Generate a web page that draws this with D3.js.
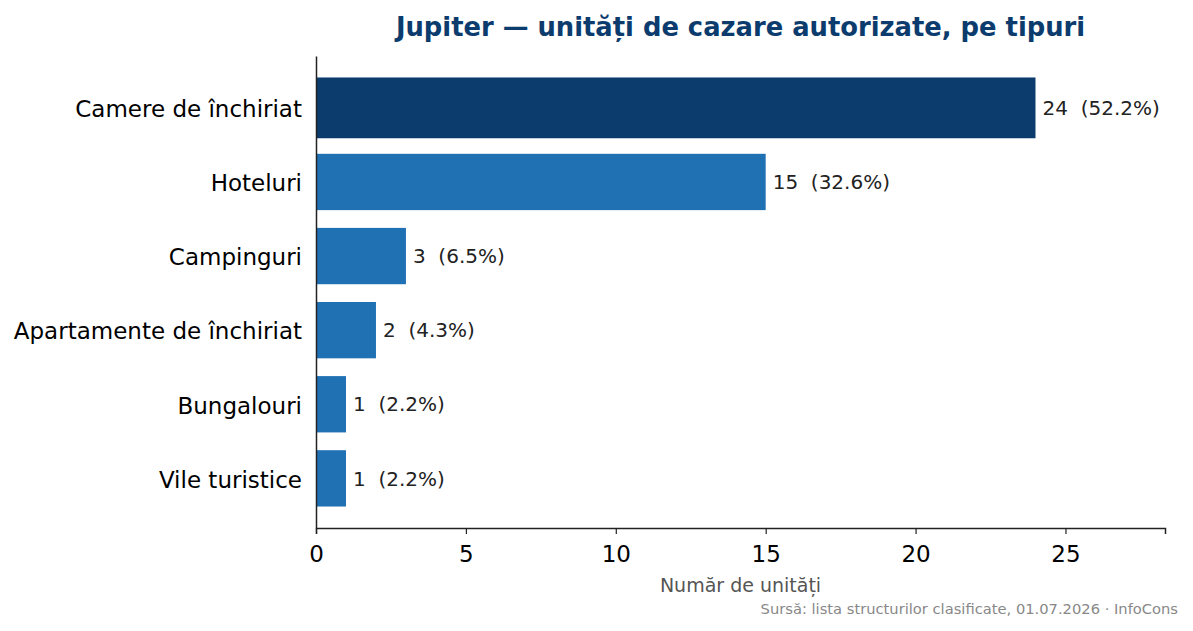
<!DOCTYPE html>
<html>
<head>
<meta charset="utf-8">
<script src="https://cdn.jsdelivr.net/npm/d3@7"></script>
<style>
  body { margin: 0; background: #fff; }
  svg { font-family: "DejaVu Sans", sans-serif; }
</style>
</head>
<body>
<div id="wrapper"></div>
<script>
// data
const categories = ["Camere de închiriat", "Hoteluri", "Campinguri", "Apartamente de închiriat", "Bungalouri", "Vile turistice"]
const counts = [24, 15, 3, 2, 1, 1]
const xTicks = [0, 5, 10, 15, 20, 25]

const total = d3.sum(counts)

function drawChart() {
  let dimensions = {
    width: 1193,
    height: 631,
    margin: { top: 56, right: 28, bottom: 103, left: 316 },
  }
  dimensions.boundedWidth = dimensions.width - dimensions.margin.left - dimensions.margin.right
  dimensions.boundedHeight = dimensions.height - dimensions.margin.top - dimensions.margin.bottom

  const wrapper = d3.select("#wrapper")
    .append("svg")
      .attr("width", dimensions.width)
      .attr("height", dimensions.height)

  const bounds = wrapper.append("g")
      .attr("transform", `translate(${dimensions.margin.left},${dimensions.margin.top})`)

  // scales (matplotlib-like limits)
  const xScale = d3.scaleLinear()
    .domain([0, d3.max(counts) * 1.18])
    .range([0, dimensions.boundedWidth])

  const yScale = d3.scaleLinear()
    .domain([-0.70, categories.length - 1 + 0.67])
    .range([0, dimensions.boundedHeight])

  // the top bar is a bit thicker
  const barH = i => i === 0 ? 0.82 : 0.76

  // bars
  bounds.selectAll("rect.bar")
    .data(counts)
    .join("rect")
      .attr("class", "bar")
      .attr("x", xScale(0))
      .attr("y", (d, i) => yScale(i - barH(i) / 2))
      .attr("width", d => xScale(d) - xScale(0))
      .attr("height", (d, i) => yScale(barH(i)) - yScale(0))
      .attr("fill", (d, i) => i === 0 ? "#0b3c6d" : "#2070b4")

  // value labels
  bounds.selectAll("text.val")
    .data(counts)
    .join("text")
      .attr("class", "val")
      .attr("x", d => xScale(d) + 7)
      .attr("y", (d, i) => yScale(i))
      .attr("dy", "0.36em")
      .attr("font-size", 20)
      .attr("fill", "#222")
      .style("white-space", "pre")
      .text(d => `${d}  (${(d / total * 100).toFixed(1)}%)`)

  // x axis
  const xAxis = bounds.append("g")
    .attr("transform", `translate(0,${dimensions.boundedHeight})`)
    .call(d3.axisBottom(xScale).tickValues(xTicks).tickSize(6).tickPadding(12))
  xAxis.select(".domain").attr("stroke", "#222").attr("stroke-width", 1.5)
  xAxis.selectAll(".tick line").attr("stroke", "#222").attr("stroke-width", 1.2)
  xAxis.selectAll(".tick text")
    .attr("font-family", "DejaVu Sans")
    .attr("font-size", 23)
    .attr("fill", "#000")

  // y axis
  const yAxis = bounds.append("g")
    .call(d3.axisLeft(yScale)
      .tickValues(d3.range(categories.length))
      .tickFormat(i => categories[i])
      .tickSize(0).tickPadding(14))
  yAxis.select(".domain").attr("stroke", "#222").attr("stroke-width", 1.5)
  yAxis.selectAll(".tick text")
    .attr("font-family", "DejaVu Sans")
    .attr("font-size", 23)
    .attr("dy", "0.38em")
    .attr("fill", "#000")

  // axis label
  wrapper.append("text")
    .attr("x", dimensions.margin.left + dimensions.boundedWidth / 2)
    .attr("y", 592)
    .attr("text-anchor", "middle")
    .attr("font-size", 19)
    .attr("fill", "#555")
    .text("Număr de unități")

  // title
  wrapper.append("text")
    .attr("x", dimensions.margin.left + dimensions.boundedWidth / 2)
    .attr("y", 36)
    .attr("text-anchor", "middle")
    .attr("font-size", 25.8)
    .attr("font-weight", "bold")
    .attr("fill", "#0b3c6d")
    .text("Jupiter — unități de cazare autorizate, pe tipuri")

  // source
  wrapper.append("text")
    .attr("x", 1178)
    .attr("y", 614)
    .attr("text-anchor", "end")
    .attr("font-size", 14.7)
    .attr("fill", "#888")
    .text("Sursă: lista structurilor clasificate, 01.07.2026 · InfoCons")
}

drawChart()
</script>
</body>
</html>
